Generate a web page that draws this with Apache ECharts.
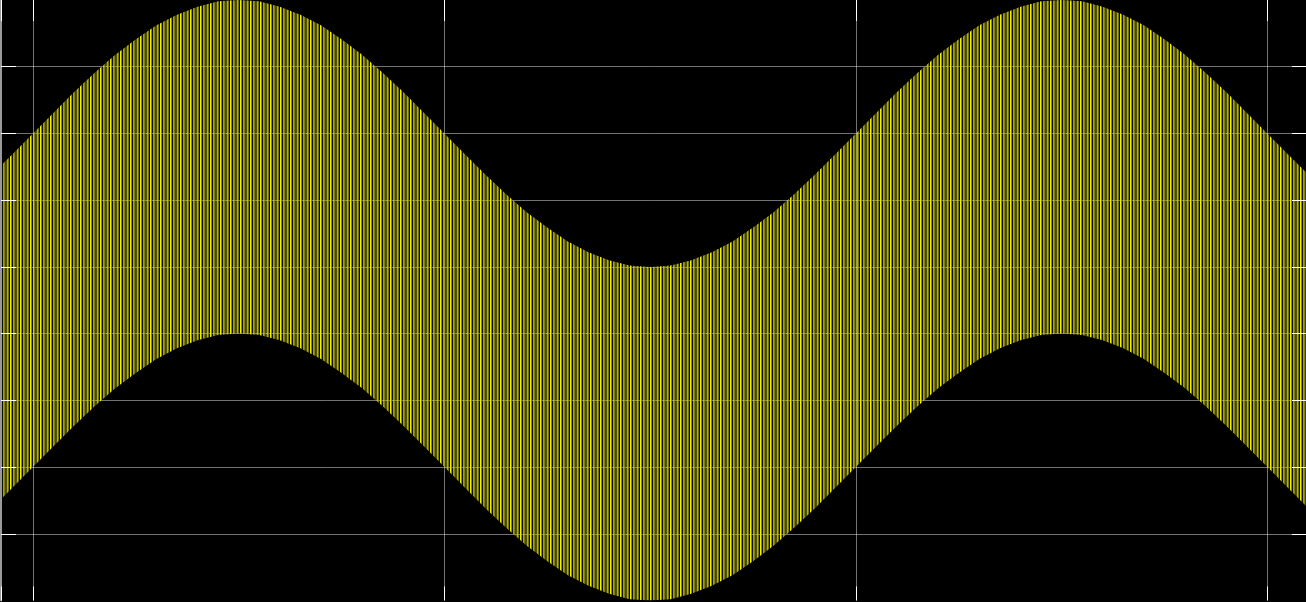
<!DOCTYPE html>
<html>
<head>
<meta charset="UTF-8">
<title>scope</title>
<script src="https://cdn.jsdelivr.net/npm/echarts@6/dist/echarts.min.js"></script>
<style>
  html, body { margin: 0; padding: 0; background: #000; }
  #chart { width: 1306px; height: 602px; }
</style>
</head>
<body>
<div id="chart"></div>
<script>
// x in divisions (vertical grid lines at 0,1,2,3)
var xDiv = [-0.10, -0.05, 0.00, 0.05, 0.10, 0.15, 0.20, 0.25, 0.30, 0.35, 0.40, 0.45, 0.50,
            0.55, 0.60, 0.65, 0.70, 0.75, 0.80, 0.85, 0.90, 0.95, 1.00, 1.05, 1.10, 1.15, 1.20,
            1.25, 1.30, 1.35, 1.40, 1.45, 1.50, 1.55, 1.60, 1.65, 1.70, 1.75, 1.80, 1.85, 1.90,
            1.95, 2.00, 2.05, 2.10, 2.15, 2.20, 2.25, 2.30, 2.35, 2.40, 2.45, 2.50, 2.55, 2.60,
            2.65, 2.70, 2.75, 2.80, 2.85, 2.90, 2.95, 3.00, 3.05, 3.10];
// top edge of the yellow band (divisions)
var upperEnv = [2.38, 2.69, 3.00, 3.31, 3.62, 3.91, 4.18, 4.41, 4.62, 4.78, 4.90, 4.98, 5.00,
                4.98, 4.90, 4.78, 4.62, 4.41, 4.18, 3.91, 3.62, 3.31, 3.00, 2.69, 2.38, 2.09, 1.82,
                1.59, 1.38, 1.22, 1.10, 1.02, 1.00, 1.02, 1.10, 1.22, 1.38, 1.59, 1.82, 2.09, 2.38,
                2.69, 3.00, 3.31, 3.62, 3.91, 4.18, 4.41, 4.62, 4.78, 4.90, 4.98, 5.00, 4.98, 4.90,
                4.78, 4.62, 4.41, 4.18, 3.91, 3.62, 3.31, 3.00, 2.69, 2.38];
// bottom edge of the yellow band (divisions)
var lowerEnv = [-2.62, -2.31, -2.00, -1.69, -1.38, -1.09, -0.82, -0.59, -0.38, -0.22, -0.10, -0.02, 0.00,
                -0.02, -0.10, -0.22, -0.38, -0.59, -0.82, -1.09, -1.38, -1.69, -2.00, -2.31, -2.62, -2.91, -3.18,
                -3.41, -3.62, -3.78, -3.90, -3.98, -4.00, -3.98, -3.90, -3.78, -3.62, -3.41, -3.18, -2.91, -2.62,
                -2.31, -2.00, -1.69, -1.38, -1.09, -0.82, -0.59, -0.38, -0.22, -0.10, -0.02, 0.00, -0.02, -0.10,
                -0.22, -0.38, -0.59, -0.82, -1.09, -1.38, -1.69, -2.00, -2.31, -2.62];
// y divisions
var yTicks = ['-4', '-3', '-2', '-1', '0', '1', '2', '3', '4', '5'];

// carrier texture: ~3.33px per cycle, gaps left see-through
function carrierPattern() {
    var c = document.createElement('canvas');
    c.width = 10; c.height = 2;
    var g = c.getContext('2d');
    for (var i = 0; i < 3; i++) {
        var x0 = i * 10 / 3;
        g.fillStyle = '#f2f200';
        g.fillRect(x0, 0, 1.1, 2);
        g.fillStyle = '#96960a';
        g.fillRect(x0 + 1.1, 0, 1.0, 2);
    }
    return c;
}
var texture = { image: carrierPattern(), repeat: 'repeat' };

var inner = function (i) { return i > 0 && i < yTicks.length - 1; };
var gridColor = 'rgba(255,255,255,0.45)';
var xRange = { min: -0.0777, max: 3.094, splitNumber: 3, minInterval: 1, maxInterval: 1 };

function xAxisOf(pos, z, extra) {
    return Object.assign({
        type: 'value', position: pos, z: z,
        axisLine: { show: false, onZero: false }, axisLabel: { show: false },
        axisTick: { show: false }, splitLine: { show: false }
    }, xRange, extra);
}
function yAxisOf(pos, z, extra) {
    return Object.assign({
        type: 'category', position: pos, z: z, data: yTicks, boundaryGap: false,
        axisLine: { show: false, onZero: false }, axisLabel: { show: false },
        axisTick: { show: false }, splitLine: { show: false }
    }, extra);
}

var chart = echarts.init(document.getElementById('chart'));
var option = {
    backgroundColor: '#000',
    animation: false,
    grid: { left: 1, right: -1, top: -6.77, bottom: 1.5 },
    xAxis: [
        xAxisOf('bottom', 0, { splitLine: { show: true, showMinLine: false, showMaxLine: false, lineStyle: { color: gridColor, width: 1 } } }),
        xAxisOf('bottom', 5, { axisTick: { show: true, inside: true, length: 14, lineStyle: { color: '#fff', width: 1 } } }),
        xAxisOf('top', 5, { axisTick: { show: true, inside: true, length: 21, lineStyle: { color: '#fff', width: 1 } } })
    ],
    yAxis: [
        yAxisOf('left', 0, { splitLine: { show: true, interval: inner, lineStyle: { color: gridColor, width: 1 } } }),
        yAxisOf('left', 5, {
            axisLine: { show: true, onZero: false, lineStyle: { color: '#9a9a9a', width: 2 } },
            axisTick: { show: true, inside: true, length: 15, interval: inner, lineStyle: { color: '#fff', width: 1 } }
        }),
        yAxisOf('right', 5, {
            axisTick: { show: true, inside: true, length: 14, interval: inner, lineStyle: { color: '#fff', width: 1 } }
        }),
        { type: 'value', show: false, min: -4, max: 5 }
    ],
    series: [{
        type: 'custom', coordinateSystem: 'cartesian2d', xAxisIndex: 0, yAxisIndex: 3,
        silent: true, clip: true, z: 2,
        data: [[xDiv[0], upperEnv[0]]],
        renderItem: function (params, api) {
            var pts = [];
            for (var i = 0; i < xDiv.length; i++) pts.push(api.coord([xDiv[i], upperEnv[i]]));
            for (var j = xDiv.length - 1; j >= 0; j--) pts.push(api.coord([xDiv[j], lowerEnv[j]]));
            return { type: 'polygon', shape: { points: pts }, style: { fill: texture } };
        }
    }]
};
chart.setOption(option);
</script>
</body>
</html>
